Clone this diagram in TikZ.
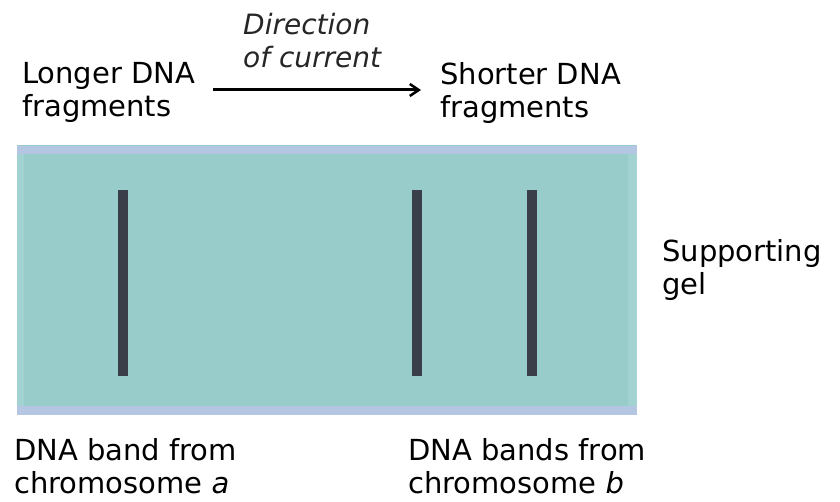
\documentclass[tikz,border=0pt]{standalone}
\usepackage{fontspec}
\setmainfont{DejaVu Sans}
\usetikzlibrary{arrows.meta}
\definecolor{gelteal}{RGB}{152,204,203}
\definecolor{gelstrip}{RGB}{180,198,226}
\definecolor{geledge}{RGB}{162,210,210}
\definecolor{bandcol}{RGB}{58,62,72}
\tikzset{
  lbl/.style={anchor=north west, inner sep=0pt, align=left, text=black,
    font=\fontsize{29}{33}\selectfont},
  dirlbl/.style={anchor=north west, inner sep=0pt, align=left, text=black!85,
    font=\fontsize{28}{33}\selectfont\itshape},
  bandrect/.style={fill=bandcol},
  currentarrow/.style={line width=3pt, -{Straight Barb[length=9pt,width=12pt,line width=2.5pt]}}
}
\begin{document}
\begin{tikzpicture}[x=1pt,y=-1pt]
\useasboundingbox (0,0) rectangle (840,502);
\fill[white] (0,0) rectangle (840,502);
% gel
\fill[gelteal] (17,145) rectangle (637,415);
\fill[gelstrip] (17,146) rectangle (637,154);
\fill[gelstrip] (17,406) rectangle (637,415);
\fill[geledge] (17,154) rectangle (24,406);
\fill[geledge] (628,154) rectangle (637,406);
% bands
\fill[bandrect] (118,190) rectangle (128,376);
\fill[bandrect] (412,190) rectangle (422,376);
\fill[bandrect] (527,190) rectangle (537,376);
% labels
\node[lbl] (longer) at (22,62) {Longer DNA\\fragments};
\node[lbl] (shorter) at (440,62) {Shorter DNA\\fragments};
\node[dirlbl] (dir) at (243,13) {Direction\\of current};
\node[lbl] (support) at (662,239) {Supporting\\gel};
\node[lbl] (banda) at (14,438) {DNA band from\\chromosome \textit{a}};
\node[lbl] (bandb) at (408,438) {DNA bands from\\chromosome \textit{b}};
% arrow
\coordinate (arrS) at (213,90);
\coordinate (arrE) at (421,90);
\draw[currentarrow] (arrS) -- (arrE);
\end{tikzpicture}
\end{document}
